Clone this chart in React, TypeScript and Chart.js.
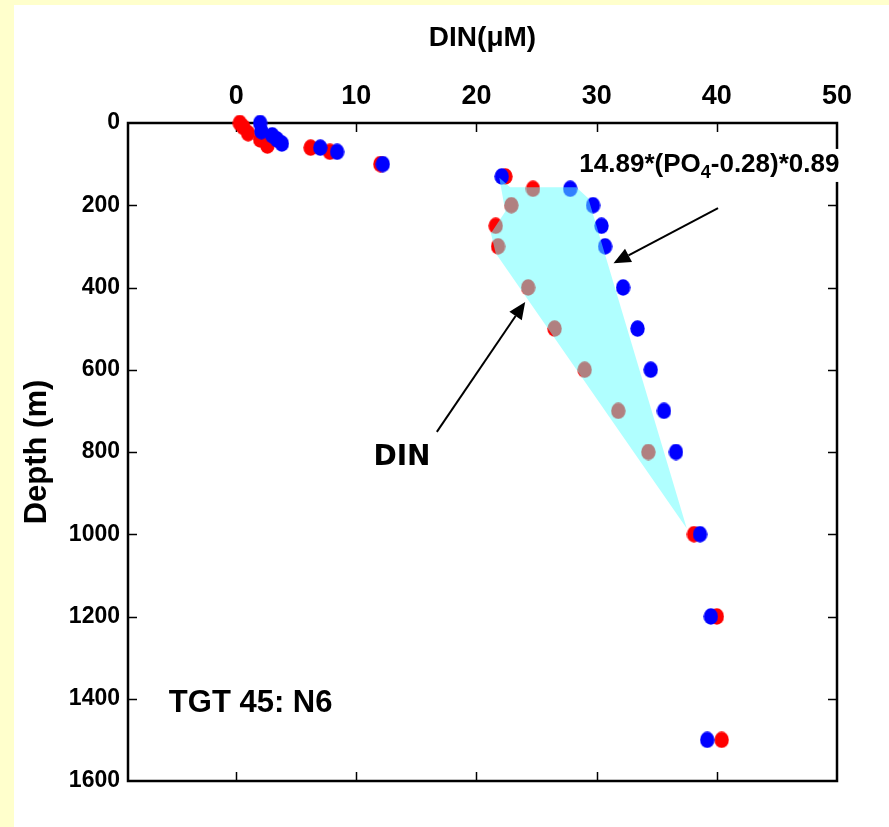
import React, { useEffect, useRef } from 'react';
import { Chart, registerables } from 'chart.js';

Chart.register(...registerables);

// Tick values for the two axes
const dinTicks = [0, 10, 20, 30, 40, 50];
const depthTicks = [0, 200, 400, 600, 800, 1000, 1200, 1400, 1600];

// Measured DIN profile (red)
const dinDepth = [0, 10, 25, 40, 55, 60, 70, 100, 130, 160, 200, 250, 300, 400, 500, 600, 700, 800, 1000, 1200, 1500];
const dinValue = [0.3, 0.6, 1.0, 2.0, 2.6, 6.2, 7.8, 12.0, 22.4, 24.7, 22.9, 21.6, 21.8, 24.3, 26.5, 29.0, 31.8, 34.3, 38.1, 40.0, 40.4];

// DIN estimated from phosphate, 14.89*(PO4-0.28)*0.89 (blue)
const poDepth = [0, 20, 30, 40, 50, 60, 70, 100, 130, 160, 200, 250, 300, 400, 500, 600, 700, 800, 1000, 1200, 1500];
const poValue = [2.0, 2.1, 3.0, 3.4, 3.8, 7.0, 8.4, 12.2, 22.1, 27.8, 29.7, 30.4, 30.7, 32.2, 33.4, 34.5, 35.6, 36.6, 38.6, 39.5, 39.2];

// Shaded deficit region between the two profiles
const shadeDIN = [21.9, 22.8, 28.3, 29.3, 37.5, 21.6, 21.2, 22.4];
const shadeDepth = [133, 156, 156, 183, 986, 317, 268, 215];

const SANS = "'Liberation Sans', Arial, sans-serif";
const NARROW = "'Liberation Sans Narrow', 'Arial Narrow', 'Liberation Sans', Arial, sans-serif";

function makeDot(color: string): HTMLCanvasElement {
  const c = document.createElement('canvas');
  c.width = 15;
  c.height = 17;
  const g = c.getContext('2d')!;
  g.fillStyle = color;
  g.beginPath();
  g.ellipse(7.5, 8.5, 7.2, 8.3, 0, 0, Math.PI * 2);
  g.fill();
  return c;
}

function arrow(ctx: CanvasRenderingContext2D, x0: number, y0: number, x1: number, y1: number) {
  const ang = Math.atan2(y1 - y0, x1 - x0);
  const len = 17;
  const half = 7.5;
  const bx = x1 - Math.cos(ang) * len;
  const by = y1 - Math.sin(ang) * len;
  ctx.strokeStyle = '#000';
  ctx.lineWidth = 2;
  ctx.beginPath();
  ctx.moveTo(x0, y0);
  ctx.lineTo(bx, by);
  ctx.stroke();
  ctx.fillStyle = '#000';
  ctx.beginPath();
  ctx.moveTo(x1, y1);
  ctx.lineTo(bx + Math.sin(ang) * half, by - Math.cos(ang) * half);
  ctx.lineTo(bx - Math.sin(ang) * half, by + Math.cos(ang) * half);
  ctx.closePath();
  ctx.fill();
}

// Box around the plot with inward tick marks on every side
const framePlugin = {
  id: 'frame',
  beforeDatasetsDraw(chart: any) {
    const { ctx, chartArea: a, scales } = chart;
    const xs = scales.x;
    const ys = scales.y;
    ctx.save();
    ctx.strokeStyle = '#000';
    ctx.lineWidth = 1.5;
    const tl = 9;
    dinTicks.forEach((v) => {
      const px = Math.round(xs.getPixelForValue(v)) + 0.5;
      if (px <= a.left + 2 || px >= a.right - 2) return;
      ctx.beginPath();
      ctx.moveTo(px, a.top);
      ctx.lineTo(px, a.top + tl);
      ctx.moveTo(px, a.bottom);
      ctx.lineTo(px, a.bottom - tl);
      ctx.stroke();
    });
    depthTicks.forEach((d) => {
      const py = Math.round(ys.getPixelForValue(d)) + 0.5;
      if (py <= a.top + 2 || py >= a.bottom - 2) return;
      ctx.beginPath();
      ctx.moveTo(a.left, py);
      ctx.lineTo(a.left + tl, py);
      ctx.moveTo(a.right, py);
      ctx.lineTo(a.right - tl, py);
      ctx.stroke();
    });
    ctx.lineWidth = 2.5;
    ctx.strokeRect(a.left, a.top, a.right - a.left, a.bottom - a.top);
    ctx.restore();
  },
  afterDatasetsDraw(chart: any) {
    const { ctx, scales } = chart;
    const X = (v: number) => scales.x.getPixelForValue(v);
    const Y = (v: number) => scales.y.getPixelForValue(v);
    ctx.save();

    arrow(ctx, X(40.1), Y(207), X(31.4), Y(341));
    arrow(ctx, X(16.7), Y(751), X(24.05), Y(435));

    // formula label, right-aligned with a white box behind it
    const big = `bold 26px ${SANS}`;
    const sub = `bold 18px ${SANS}`;
    const p1 = '14.89*(PO';
    const p2 = '4';
    const p3 = '-0.28)*0.89';
    ctx.font = big;
    const w1 = ctx.measureText(p1).width;
    const w3 = ctx.measureText(p3).width;
    ctx.font = sub;
    const w2 = ctx.measureText(p2).width;
    const right = X(50.2);
    const base = Y(119);
    const left = right - (w1 + w2 + w3);
    ctx.fillStyle = '#fff';
    ctx.fillRect(left - 3, base - 23, w1 + w2 + w3 + 8, 33);
    ctx.fillStyle = '#000';
    ctx.textBaseline = 'alphabetic';
    ctx.textAlign = 'left';
    ctx.font = big;
    ctx.fillText(p1, left, base);
    ctx.font = sub;
    ctx.fillText(p2, left + w1, base + 6);
    ctx.font = big;
    ctx.fillText(p3, left + w1 + w2, base);

    ctx.font = `bold 28px 'DejaVu Sans', Verdana, sans-serif`;
    ctx.textAlign = 'center';
    ctx.fillText('DIN', X(13.8), Y(832));

    ctx.font = `bold 31px ${SANS}`;
    ctx.textAlign = 'left';
    ctx.fillText('TGT 45: N6', X(-5.6), Y(1433));
    ctx.restore();
  },
};

export default function App() {
  const ref = useRef<HTMLCanvasElement>(null);

  useEffect(() => {
    if (!ref.current) return;
    const redDot = makeDot('#ff0000');
    const blueDot = makeDot('#0000ff');
    const chart = new Chart(ref.current, {
      type: 'scatter',
      data: {
        datasets: [
          {
            type: 'line',
            label: 'deficit',
            data: shadeDIN.map((x, i) => ({ x, y: shadeDepth[i] })),
            fill: 'shape',
            backgroundColor: 'rgba(97,255,255,0.5)',
            borderColor: 'rgba(0,0,0,0)',
            borderWidth: 0,
            pointRadius: 0,
            tension: 0,
            order: 0,
          } as any,
          {
            label: 'PO4 based',
            data: poValue.map((x, i) => ({ x, y: poDepth[i] })),
            pointStyle: blueDot as any,
            pointRadius: 8,
            clip: false as any,
            order: 1,
          },
          {
            label: 'DIN',
            data: dinValue.map((x, i) => ({ x, y: dinDepth[i] })),
            pointStyle: redDot as any,
            pointRadius: 8,
            clip: false as any,
            order: 2,
          },
        ],
      },
      options: {
        responsive: false,
        animation: false,
        devicePixelRatio: 1,
        layout: { padding: { top: 0, left: 0, right: 52, bottom: 46 } },
        plugins: {
          legend: { display: false },
          tooltip: { enabled: false },
        },
        scales: {
          x: {
            type: 'linear',
            position: 'top',
            min: -9,
            max: 50,
            afterBuildTicks: (s: any) => {
              s.ticks = dinTicks.map((v) => ({ value: v }));
            },
            afterFit: (s: any) => {
              s.height = 118;
            },
            grid: { display: false, drawTicks: false },
            border: { display: false },
            ticks: {
              color: '#000',
              padding: 10,
              maxRotation: 0,
              autoSkip: false,
              callback: (v: any) => String(v),
              font: { family: NARROW, size: 27, weight: 'bold' },
            },
            title: {
              display: true,
              text: 'DIN(\u03bcM)',
              color: '#000',
              font: { family: NARROW, size: 28, weight: 'bold' },
              padding: { top: 16, bottom: 0 },
            },
          },
          y: {
            type: 'linear',
            reverse: true,
            min: 0,
            max: 1600,
            afterBuildTicks: (s: any) => {
              s.ticks = depthTicks.map((v) => ({ value: v }));
            },
            afterFit: (s: any) => {
              s.width = 114;
            },
            grid: { display: false, drawTicks: false },
            border: { display: false },
            ticks: {
              color: '#000',
              padding: 8,
              autoSkip: false,
              callback: (v: any) => String(v),
              font: { family: SANS, size: 23, weight: 'bold' },
            },
            title: {
              display: true,
              text: 'Depth (m)',
              color: '#000',
              font: { family: SANS, size: 31, weight: 'bold' },
              padding: { top: 5, bottom: 0 },
            },
          },
        },
      },
      plugins: [framePlugin],
    });
    return () => chart.destroy();
  }, []);

  return (
    <div style={{ position: 'fixed', inset: 0, background: '#ffffcc' }}>
      <div
        style={{
          position: 'absolute',
          left: 14,
          top: 5,
          width: 875,
          height: 822,
          background: '#ffffff',
        }}
      >
        <canvas ref={ref} width={875} height={822} style={{ display: 'block' }} />
      </div>
    </div>
  );
}
